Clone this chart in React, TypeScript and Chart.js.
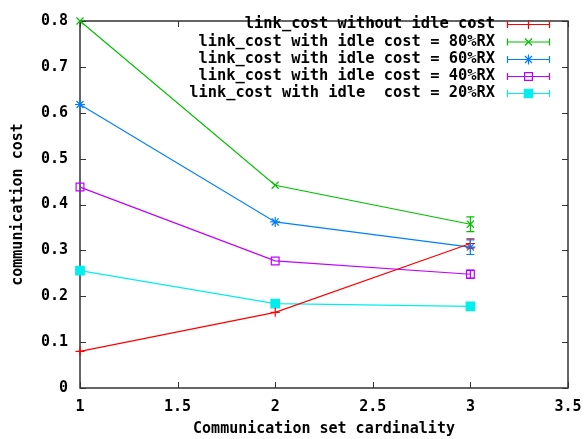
import React, { useEffect, useRef } from "react";
import { Chart, registerables } from "chart.js";
import { drawPoint } from "chart.js/helpers";

Chart.register(...registerables);

const xValues = [1, 2, 3];
const seriesLabels = [
  "link_cost without idle cost",
  "link_cost with idle cost = 80%RX",
  "link_cost with idle cost = 60%RX",
  "link_cost with idle cost = 40%RX",
  "link_cost with idle  cost = 20%RX",
];
const noIdle = [0.08, 0.165, 0.315];
const idle80 = [0.8, 0.442, 0.357];
const idle60 = [0.618, 0.362, 0.307];
const idle40 = [0.438, 0.277, 0.248];
const idle20 = [0.256, 0.184, 0.178];
const errNoIdle = [0, 0, 0.01];
const errIdle80 = [0, 0, 0.016];
const errIdle60 = [0, 0, 0.016];
const errIdle40 = [0, 0, 0.009];
const errIdle20 = [0, 0, 0.004];
const xTicks = [1, 1.5, 2, 2.5, 3, 3.5];
const yTicks = [0, 0.1, 0.2, 0.3, 0.4, 0.5, 0.6, 0.7, 0.8];

const colors = ["#ff0000", "#00c000", "#0080ff", "#c000ff", "#00eeee"];
const pointStyles = ["cross", "crossRot", "star", "rect", "rect"];
const pointFills = ["#ff0000", "#00c000", "#0080ff", "rgba(0,0,0,0)", "#00eeee"];
const pointRadii = [4.5, 5, 5, 5.5, 6];
const values = [noIdle, idle80, idle60, idle40, idle20];
const errors = [errNoIdle, errIdle80, errIdle60, errIdle40, errIdle20];

const FONT = '"DejaVu Sans Mono", "Liberation Mono", monospace';

const framePlugin = {
  id: "frame",
  beforeDatasetsDraw(chart: any) {
    const { ctx, chartArea } = chart;
    const { left, right, top, bottom } = chartArea;
    const xs = chart.scales.x;
    const ys = chart.scales.y;
    ctx.save();
    ctx.strokeStyle = "#333333";
    ctx.lineWidth = 1.5;
    ctx.strokeRect(left, top, right - left, bottom - top);
    ctx.lineWidth = 1;
    ctx.beginPath();
    const tl = 6;
    for (const v of yTicks) {
      const y = Math.round(ys.getPixelForValue(v)) + 0.5;
      ctx.moveTo(left, y);
      ctx.lineTo(left + tl, y);
      ctx.moveTo(right, y);
      ctx.lineTo(right - tl, y);
    }
    for (const v of xTicks) {
      const x = Math.round(xs.getPixelForValue(v)) + 0.5;
      ctx.moveTo(x, bottom);
      ctx.lineTo(x, bottom - tl);
      ctx.moveTo(x, top);
      ctx.lineTo(x, top + tl);
    }
    ctx.stroke();
    ctx.restore();
  },
  afterDatasetsDraw(chart: any) {
    const { ctx } = chart;
    const xs = chart.scales.x;
    const ys = chart.scales.y;
    ctx.save();
    ctx.lineWidth = 1.2;
    values.forEach((vals, i) => {
      ctx.strokeStyle = colors[i];
      ctx.beginPath();
      vals.forEach((v, j) => {
        const e = errors[i][j];
        if (!e) return;
        const x = xs.getPixelForValue(xValues[j]);
        const y1 = ys.getPixelForValue(v - e);
        const y2 = ys.getPixelForValue(v + e);
        ctx.moveTo(x, y1);
        ctx.lineTo(x, y2);
        ctx.moveTo(x - 4, y1);
        ctx.lineTo(x + 4, y1);
        ctx.moveTo(x - 4, y2);
        ctx.lineTo(x + 4, y2);
      });
      ctx.stroke();
    });
    // legend
    const textRight = 495;
    const x0 = 507;
    const x1 = 550;
    const rowY = [24, 41.5, 59, 76, 93];
    ctx.font = "bold 15.4px " + FONT;
    ctx.textAlign = "right";
    ctx.textBaseline = "middle";
    seriesLabels.forEach((lab, i) => {
      const y = rowY[i];
      ctx.fillStyle = "#000000";
      ctx.fillText(lab, textRight, y);
      ctx.strokeStyle = colors[i];
      ctx.lineWidth = 1.2;
      ctx.beginPath();
      ctx.moveTo(x0, y + 0.5);
      ctx.lineTo(x1, y + 0.5);
      ctx.moveTo(x0 + 0.5, y - 3);
      ctx.lineTo(x0 + 0.5, y + 4);
      ctx.moveTo(x1 - 0.5, y - 3);
      ctx.lineTo(x1 - 0.5, y + 4);
      ctx.stroke();
      ctx.fillStyle = pointFills[i];
      drawPoint(
        ctx,
        { pointStyle: pointStyles[i] as any, radius: pointRadii[i], rotation: 0, borderWidth: 1.2 },
        (x0 + x1) / 2,
        y + 0.5
      );
    });
    ctx.restore();
  },
};

export default function App() {
  const ref = useRef<HTMLCanvasElement | null>(null);
  useEffect(() => {
    if (!ref.current) return;
    const chart = new Chart(ref.current, {
      type: "line",
      data: {
        datasets: values.map((vals, i) => ({
          label: seriesLabels[i],
          data: vals.map((v, j) => ({ x: xValues[j], y: v })),
          borderColor: colors[i],
          backgroundColor: pointFills[i],
          borderWidth: 1.2,
          pointStyle: pointStyles[i] as any,
          pointRadius: pointRadii[i],
          pointBorderWidth: 1.2,
          pointBorderColor: colors[i],
          pointBackgroundColor: pointFills[i],
          fill: false,
          tension: 0,
          clip: false as any,
        })),
      },
      options: {
        animation: false,
        responsive: false,
        maintainAspectRatio: false,
        layout: { padding: { top: 10, right: 19, left: 0, bottom: 0 } },
        plugins: { legend: { display: false }, tooltip: { enabled: false } },
        scales: {
          x: {
            type: "linear",
            min: 1,
            max: 3.5,
            afterBuildTicks: (s: any) => {
              s.ticks = xTicks.map((v) => ({ value: v }));
            },
            afterFit: (s: any) => {
              s.height = 51;
              s.paddingRight = 0;
              s.paddingLeft = 0;
            },
            grid: { display: false, drawTicks: false },
            border: { display: false },
            ticks: {
              padding: 10,
              color: "#000",
              font: { family: FONT, size: 15, weight: "bold" },
              maxRotation: 0,
              autoSkip: false,
              callback: (v: any) => String(v),
            },
            title: {
              display: true,
              text: "Communication set cardinality",
              color: "#000",
              font: { family: FONT, size: 15, weight: "bold" },
              padding: { top: 0, bottom: 1 },
            },
          },
          y: {
            type: "linear",
            min: 0,
            max: 0.8,
            afterBuildTicks: (s: any) => {
              s.ticks = yTicks.map((v) => ({ value: v }));
            },
            afterFit: (s: any) => {
              s.width = 80;
            },
            grid: { display: false, drawTicks: false },
            border: { display: false },
            ticks: {
              padding: 12,
              color: "#000",
              font: { family: FONT, size: 15, weight: "bold" },
              autoSkip: false,
              callback: (v: any) => (v === 0 ? "0" : Number(v).toFixed(1)),
            },
            title: {
              display: true,
              text: "communication cost",
              color: "#000",
              font: { family: FONT, size: 15, weight: "bold" },
              padding: { top: 9, bottom: 8 },
            },
          },
        },
      },
      plugins: [framePlugin],
    });
    return () => chart.destroy();
  }, []);
  return (
    <div style={{ position: "fixed", left: 0, top: 0, width: 587, height: 439, background: "#fff" }}>
      <canvas ref={ref} width={587} height={439} style={{ width: 587, height: 439, display: "block" }} />
    </div>
  );
}
